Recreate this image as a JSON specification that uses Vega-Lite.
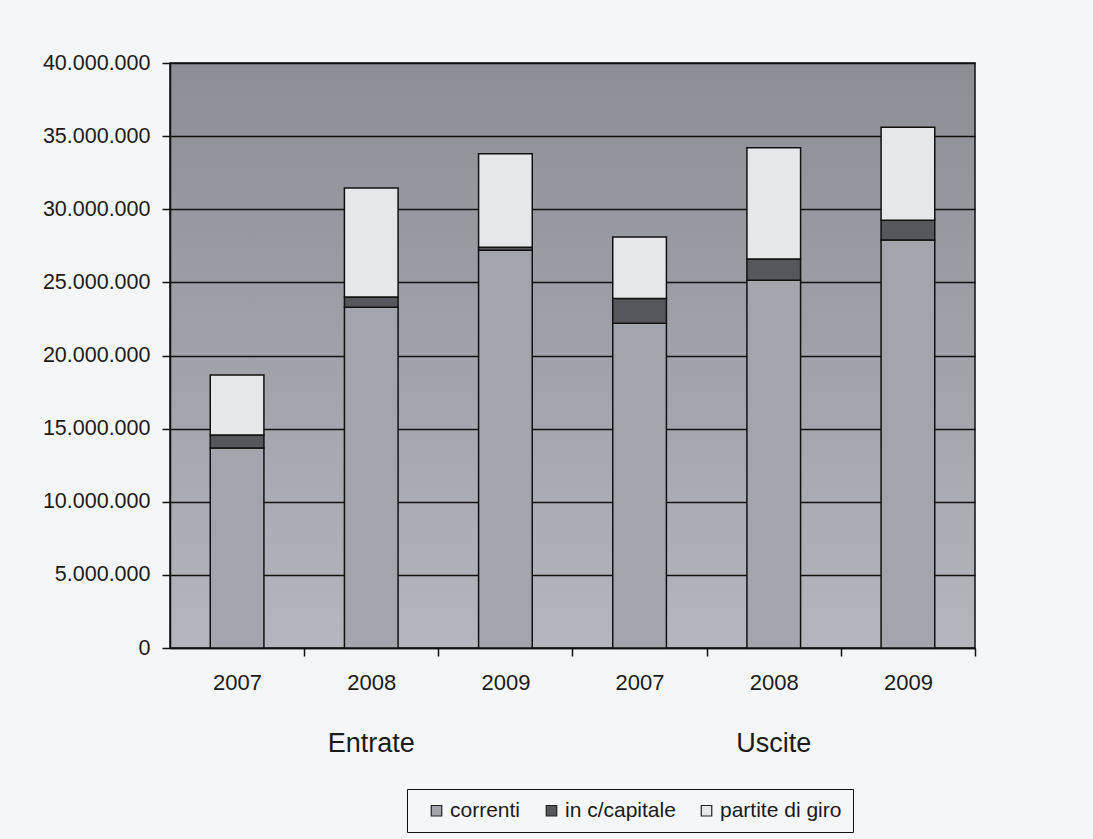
{
  "$schema": "https://vega.github.io/schema/vega-lite/v6.json",
  "width": 805,
  "height": 585,
  "autosize": "none",
  "padding": {"left": 170, "top": 63, "right": 118, "bottom": 191},
  "background": "#f5f6f8",
  "config": {
    "locale": {"number": {"decimal": ",", "thousands": ".", "grouping": [3], "currency": ["€", ""]}},
    "view": {
      "stroke": "#111",
      "strokeWidth": 1.5,
      "fill": {"gradient": "linear", "x1": 0, "y1": 0, "x2": 0, "y2": 1, "stops": [{"offset": 0, "color": "#8b8e95"}, {"offset": 1, "color": "#b4b6bd"}]}
    },
    "font": "Liberation Sans"
  },
  "datasets": {
    "bars": [
      {"colonna": "Entrate 2007", "voce": "correnti", "ordine": 1, "valore": 13680000},
      {"colonna": "Entrate 2007", "voce": "in c/capitale", "ordine": 2, "valore": 880000},
      {"colonna": "Entrate 2007", "voce": "partite di giro", "ordine": 3, "valore": 4110000},
      {"colonna": "Entrate 2008", "voce": "correnti", "ordine": 1, "valore": 23300000},
      {"colonna": "Entrate 2008", "voce": "in c/capitale", "ordine": 2, "valore": 700000},
      {"colonna": "Entrate 2008", "voce": "partite di giro", "ordine": 3, "valore": 7450000},
      {"colonna": "Entrate 2009", "voce": "correnti", "ordine": 1, "valore": 27200000},
      {"colonna": "Entrate 2009", "voce": "in c/capitale", "ordine": 2, "valore": 200000},
      {"colonna": "Entrate 2009", "voce": "partite di giro", "ordine": 3, "valore": 6400000},
      {"colonna": "Uscite 2007", "voce": "correnti", "ordine": 1, "valore": 22200000},
      {"colonna": "Uscite 2007", "voce": "in c/capitale", "ordine": 2, "valore": 1700000},
      {"colonna": "Uscite 2007", "voce": "partite di giro", "ordine": 3, "valore": 4200000},
      {"colonna": "Uscite 2008", "voce": "correnti", "ordine": 1, "valore": 25150000},
      {"colonna": "Uscite 2008", "voce": "in c/capitale", "ordine": 2, "valore": 1450000},
      {"colonna": "Uscite 2008", "voce": "partite di giro", "ordine": 3, "valore": 7600000},
      {"colonna": "Uscite 2009", "voce": "correnti", "ordine": 1, "valore": 27900000},
      {"colonna": "Uscite 2009", "voce": "in c/capitale", "ordine": 2, "valore": 1350000},
      {"colonna": "Uscite 2009", "voce": "partite di giro", "ordine": 3, "valore": 6350000}
    ],
    "gruppi": [
      {"colonna": "Entrate 2008", "gruppo": "Entrate"},
      {"colonna": "Uscite 2008", "gruppo": "Uscite"}
    ]
  },
  "layer": [
    {
      "data": {"name": "bars"},
      "mark": {"type": "bar", "stroke": "#111", "strokeWidth": 1.5},
      "encoding": {
        "x": {
          "field": "colonna",
          "type": "nominal",
          "sort": ["Entrate 2007", "Entrate 2008", "Entrate 2009", "Uscite 2007", "Uscite 2008", "Uscite 2009"],
          "scale": {"paddingInner": 0.6, "paddingOuter": 0.3},
          "axis": {
            "title": null,
            "labelExpr": "split(datum.value, ' ')[1]",
            "labelAngle": 0,
            "tickOffset": 67,
            "labelOffset": -67,
            "grid": false,
            "domainColor": "#111",
            "domainWidth": 1.5,
            "tickColor": "#111",
            "tickWidth": 1.5,
            "tickSize": 8,
            "labelPadding": 16,
            "labelFontSize": 22,
            "labelColor": "#1a1a1a"
          }
        },
        "y": {
          "field": "valore",
          "type": "quantitative",
          "stack": "zero",
          "scale": {"domain": [0, 40000000]},
          "axis": {
            "title": null,
            "values": [0, 5000000, 10000000, 15000000, 20000000, 25000000, 30000000, 35000000, 40000000],
            "format": ",d",
            "grid": true,
            "gridColor": "#111",
            "gridWidth": 1.5,
            "gridOpacity": 1,
            "domainColor": "#111",
            "domainWidth": 1.5,
            "tickColor": "#111",
            "tickWidth": 1.5,
            "tickSize": 8,
            "labelPadding": 12,
            "labelFontSize": 21.5,
            "labelColor": "#1a1a1a"
          }
        },
        "color": {
          "field": "voce",
          "type": "nominal",
          "scale": {"domain": ["correnti", "in c/capitale", "partite di giro"], "range": ["#a3a5ac", "#56575c", "#e6e7eb"]},
          "legend": {
            "orient": "none",
            "legendX": 237,
            "legendY": 726,
            "direction": "horizontal",
            "title": null,
            "strokeColor": "#111",
            "padding": 11,
            "symbolOffset": 8,
            "labelFontSize": 21,
            "labelColor": "#1a1a1a",
            "symbolType": "square",
            "symbolSize": 110,
            "symbolStrokeColor": "#222",
            "symbolStrokeWidth": 1.2,
            "columnPadding": 12,
            "labelOffset": 3
          }
        },
        "order": {"field": "ordine", "type": "quantitative"}
      }
    },
    {
      "data": {"name": "gruppi"},
      "mark": {"type": "text", "dy": 104, "baseline": "alphabetic", "fontSize": 27, "color": "#1a1a1a"},
      "encoding": {
        "x": {
          "field": "colonna",
          "type": "nominal",
          "sort": ["Entrate 2007", "Entrate 2008", "Entrate 2009", "Uscite 2007", "Uscite 2008", "Uscite 2009"]
        },
        "y": {"datum": 0, "type": "quantitative"},
        "text": {"field": "gruppo"}
      }
    }
  ]
}
